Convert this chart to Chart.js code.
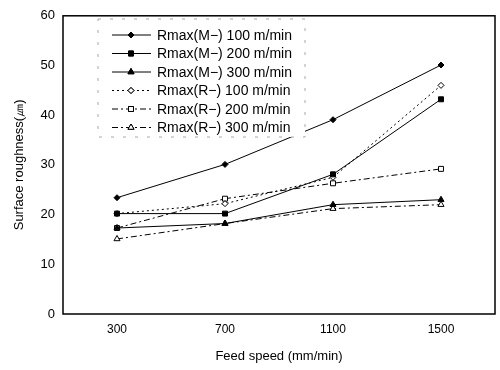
<!DOCTYPE html>
<html>
<head>
<meta charset="utf-8">
<script src="https://cdn.jsdelivr.net/npm/chart.js@4.4.0/dist/chart.umd.min.js"></script>
<style>
  body { margin: 0; background: #fff; }
  #wrap { width: 500px; height: 370px; }
</style>
</head>
<body>
<div id="wrap"><canvas id="mycanvas" width="500" height="370"></canvas></div>
<script>
var feeds = ['300', '700', '1100', '1500'];
var m100 = [23.4, 30.1, 39.1, 50.1];
var m200 = [20.2, 20.2, 28.1, 43.2];
var m300 = [17.3, 18.2, 22.0, 23.0];
var r100 = [20.2, 22.2, 27.5, 46.0];
var r200 = [17.3, 23.2, 26.3, 29.2];
var r300 = [15.1, 18.2, 21.2, 22.0];
var yTicks = [0, 10, 20, 30, 40, 50, 60];

var font = "'Liberation Sans', Arial, sans-serif";

function ds(label, data, style, dash, filled) {
	return {
		label: label,
		data: data,
		borderColor: '#000',
		backgroundColor: filled ? '#000' : '#fff',
		borderWidth: 1,
		borderDash: dash,
		pointStyle: style,
		pointRadius: style == 'rectRot' ? 3 : 3.5,
		pointBorderWidth: 1,
		pointBorderColor: '#000',
		pointBackgroundColor: filled ? '#000' : '#fff',
		tension: 0
	};
}

var chartdata = {
	labels: feeds,
	datasets: [
		ds('Rmax(M\u2212) 100 m/min', m100, 'rectRot', [], true),
		ds('Rmax(M\u2212) 200 m/min', m200, 'rect', [], true),
		ds('Rmax(M\u2212) 300 m/min', m300, 'triangle', [], true),
		ds('Rmax(R\u2212) 100 m/min', r100, 'rectRot', [2, 3], false),
		ds('Rmax(R\u2212) 200 m/min', r200, 'rect', [6, 3, 2, 3], false),
		ds('Rmax(R\u2212) 300 m/min', r300, 'triangle', [6, 3, 2, 3], false)
	]
};

// frame around the plot and the legend box inside it
var framePlugin = {
	id: 'frame',
	afterDraw: function(chart) {
		var c = chart.ctx, a = chart.chartArea;
		c.save();
		c.strokeStyle = '#000';
		c.lineWidth = 1.5;
		c.strokeRect(a.left, a.top, a.right - a.left, a.bottom - a.top);
		// legend box
		var bx = 98, by = 19, bw = 207, bh = 118;
		c.fillStyle = '#fff';
		c.fillRect(bx, by, bw, bh);
		c.lineWidth = 1;
		c.strokeStyle = '#aaa';
		c.setLineDash([3, 9]);
		c.strokeRect(bx, by, bw, bh);
		c.setLineDash([]);
		c.font = '14px ' + font;
		c.textBaseline = 'middle';
		chart.data.datasets.forEach(function(d, i) {
			var y = 35 + i * 18.5;
			c.strokeStyle = '#000';
			c.lineWidth = 1;
			c.setLineDash(d.borderDash);
			c.beginPath();
			c.moveTo(112, y);
			c.lineTo(151, y);
			c.stroke();
			c.setLineDash([]);
			Chart.helpers.drawPoint(c, {
				pointStyle: d.pointStyle,
				radius: d.pointRadius,
				borderWidth: 1,
				rotation: 0
			}, 131, y);
			c.fillStyle = d.pointBackgroundColor;
			c.strokeStyle = '#000';
			c.fill();
			c.stroke();
			c.fillStyle = '#000';
			c.fillText(d.label, 157, y + 1);
		});
		c.restore();
	}
};

var ctx = document.getElementById('mycanvas');
var chart = new Chart(ctx, {
	type: 'line',
	data: chartdata,
	plugins: [framePlugin],
	options: {
		responsive: false,
		animation: false,
		layout: { padding: { left: 8, right: 3, top: 11, bottom: 2 } },
		plugins: { legend: { display: false }, tooltip: { enabled: false } },
		scales: {
			x: {
				offset: true,
				grid: { display: false, drawTicks: false },
				border: { display: false },
				ticks: { color: '#000', font: { family: font, size: 12 }, padding: 8 },
				title: { display: true, text: 'Feed speed (mm/min)', color: '#000', font: { family: font, size: 13 }, padding: { top: 10 } },
				afterFit: function(s) { s.height = 54; }
			},
			y: {
				min: 0, max: 60,
				afterBuildTicks: function(s) { s.ticks = yTicks.map(function(v) { return { value: v }; }); },
				grid: { display: false, drawTicks: false },
				border: { display: false },
				ticks: { color: '#000', font: { family: font, size: 13 }, padding: 8 },
				title: { display: true, text: 'Surface roughness(\u339B)', color: '#000', font: { family: font, size: 13 }, padding: { bottom: 4 } },
				afterFit: function(s) { s.width = 55; }
			}
		}
	}
});
</script>
</body>
</html>
